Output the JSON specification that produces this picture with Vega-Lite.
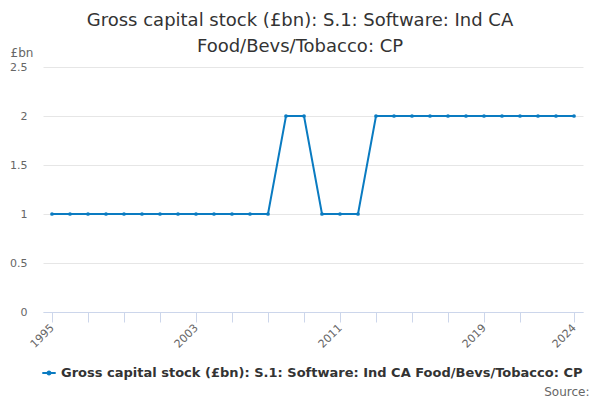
{
  "$schema": "https://vega.github.io/schema/vega-lite/v6.json",
  "width": 540,
  "height": 245,
  "autosize": "none",
  "padding": {"left": 43, "top": 67, "right": 17, "bottom": 88},
  "title": {
    "text": ["Gross capital stock (£bn): S.1: Software: Ind CA", "Food/Bevs/Tobacco: CP"],
    "anchor": "middle",
    "dx": -13,
    "offset": -10,
    "fontSize": 18,
    "font": "DejaVu Sans",
    "fontWeight": "normal",
    "color": "#333333",
    "lineHeight": 26
  },
  "data": {
    "values": [
      {"year": 1995, "value": 1}, {"year": 1996, "value": 1}, {"year": 1997, "value": 1},
      {"year": 1998, "value": 1}, {"year": 1999, "value": 1}, {"year": 2000, "value": 1},
      {"year": 2001, "value": 1}, {"year": 2002, "value": 1}, {"year": 2003, "value": 1},
      {"year": 2004, "value": 1}, {"year": 2005, "value": 1}, {"year": 2006, "value": 1},
      {"year": 2007, "value": 1}, {"year": 2008, "value": 2}, {"year": 2009, "value": 2},
      {"year": 2010, "value": 1}, {"year": 2011, "value": 1}, {"year": 2012, "value": 1},
      {"year": 2013, "value": 2}, {"year": 2014, "value": 2}, {"year": 2015, "value": 2},
      {"year": 2016, "value": 2}, {"year": 2017, "value": 2}, {"year": 2018, "value": 2},
      {"year": 2019, "value": 2}, {"year": 2020, "value": 2}, {"year": 2021, "value": 2},
      {"year": 2022, "value": 2}, {"year": 2023, "value": 2}, {"year": 2024, "value": 2}
    ]
  },
  "mark": {
    "type": "line",
    "color": "#0a7bc1",
    "strokeWidth": 2,
    "point": {"filled": true, "size": 14, "color": "#0a7bc1"}
  },
  "encoding": {
    "x": {
      "field": "year",
      "type": "quantitative",
      "scale": {"domain": [1994.5, 2024.5], "nice": false, "zero": false},
      "axis": {
        "values": [1995, 1997, 1999, 2001, 2003, 2005, 2007, 2009, 2011, 2013, 2015, 2017, 2019, 2021, 2024],
        "labelExpr": "indexof([1995, 2003, 2011, 2019, 2024], datum.value) >= 0 ? datum.value : ''",
        "format": "d",
        "labelAngle": -45,
        "labelAlign": "right",
        "labelBaseline": "middle",
        "labelFontSize": 11,
        "labelColor": "#666666",
        "labelFont": "DejaVu Sans",
        "labelPadding": 4,
        "labelOverlap": false,
        "grid": false,
        "domainColor": "#ccd6eb",
        "tickColor": "#ccd6eb",
        "tickSize": 10,
        "title": "Source:",
        "titleFont": "DejaVu Sans",
        "titleFontSize": 12,
        "titleFontWeight": "normal",
        "titleColor": "#666666",
        "titleAnchor": "end",
        "titleAlign": "right",
        "titleBaseline": "alphabetic",
        "titleX": 546,
        "titleY": 83
      }
    },
    "y": {
      "field": "value",
      "type": "quantitative",
      "scale": {"domain": [0, 2.5], "nice": false},
      "axis": {
        "values": [0, 0.5, 1, 1.5, 2, 2.5],
        "format": "~g",
        "domain": false,
        "ticks": false,
        "labelFontSize": 11,
        "labelColor": "#666666",
        "labelFont": "DejaVu Sans",
        "labelPadding": 16,
        "gridColor": "#e6e6e6",
        "title": "£bn",
        "titleAngle": 0,
        "titleFont": "DejaVu Sans",
        "titleFontSize": 12,
        "titleFontWeight": "normal",
        "titleColor": "#666666",
        "titleAlign": "left",
        "titleBaseline": "alphabetic",
        "titleX": -33,
        "titleY": -11
      }
    },
    "color": {
      "datum": "Gross capital stock (£bn): S.1: Software: Ind CA Food/Bevs/Tobacco: CP",
      "scale": {"range": ["#0a7bc1"]},
      "legend": {
        "title": null,
        "orient": "none",
        "legendX": -2,
        "legendY": 298,
        "symbolType": "M -1 0 L 1 0 M 0.22 0 A 0.22 0.22 0 1 1 -0.22 0 A 0.22 0.22 0 1 1 0.22 0",
        "symbolSize": 180,
        "symbolStrokeWidth": 2,
        "symbolStrokeColor": "#0a7bc1",
        "symbolFillColor": "#0a7bc1",
        "labelFont": "DejaVu Sans",
        "labelFontSize": 13,
        "labelFontWeight": "bold",
        "labelColor": "#333333",
        "labelLimit": 600
      }
    }
  },
  "config": {
    "view": {"stroke": null},
    "background": "white"
  }
}
